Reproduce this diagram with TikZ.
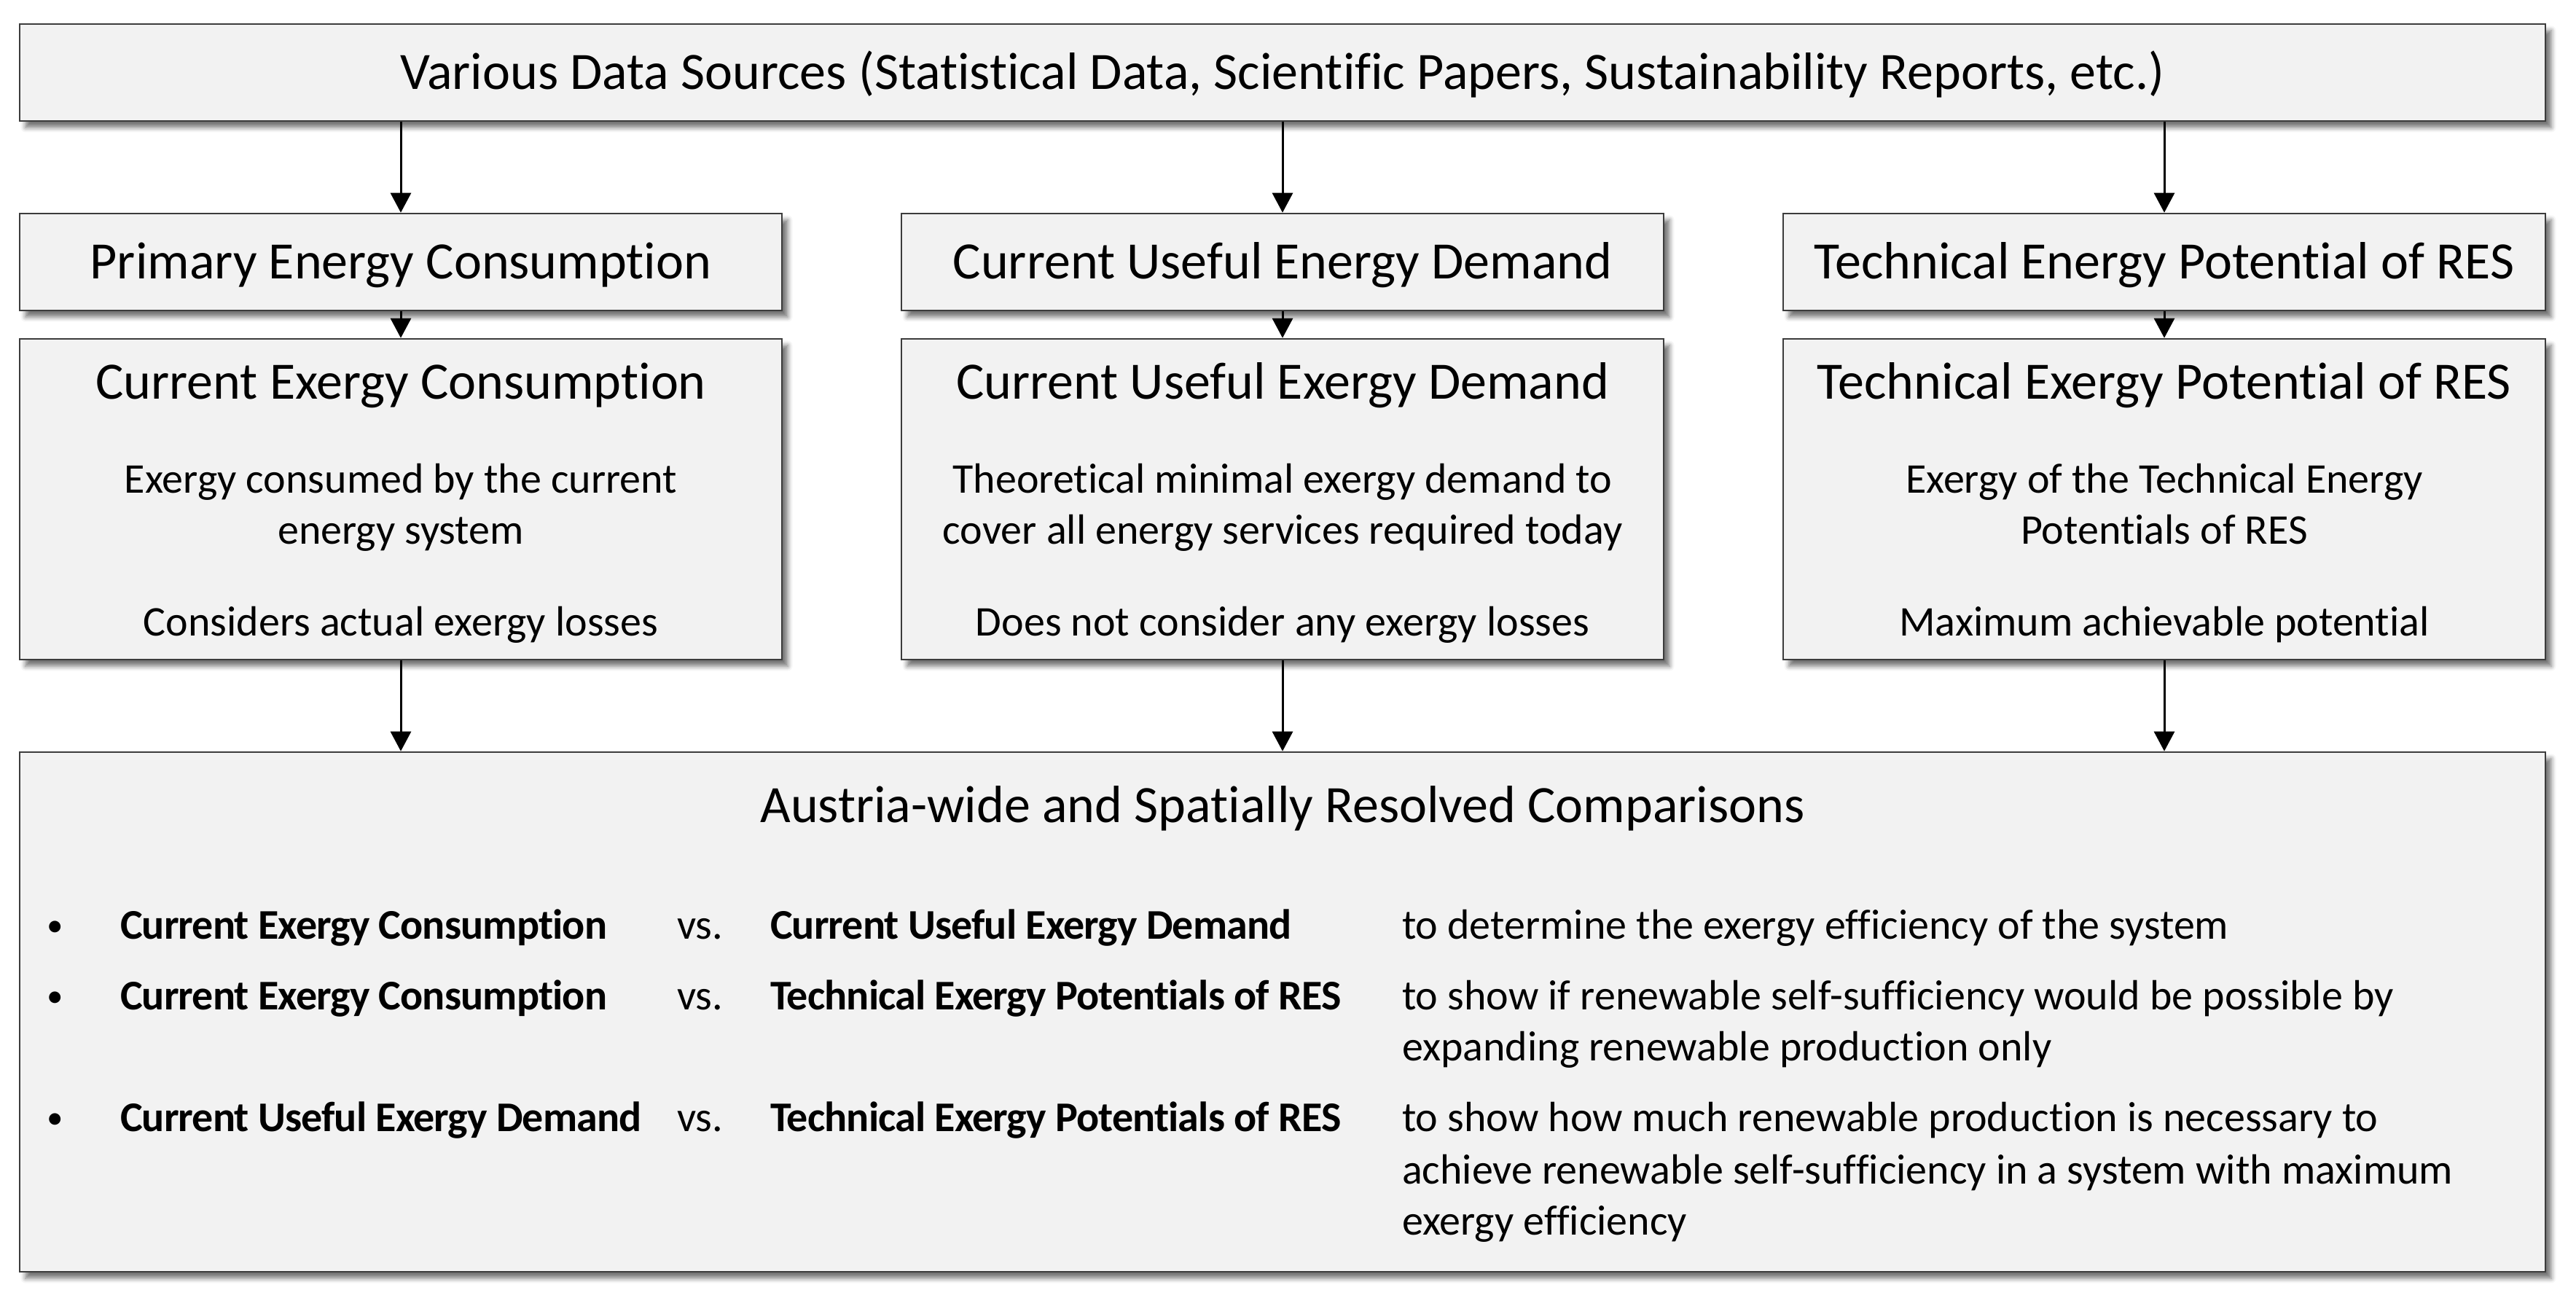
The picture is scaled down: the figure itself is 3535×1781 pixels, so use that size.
\documentclass[tikz,border=0pt]{standalone}
\usepackage{fontspec}
\setmainfont{Carlito}[Ligatures=NoCommon,Contextuals=NoAlternate]
\newfontfamily\condfont{Carlito}[LetterSpace=-1.5,Ligatures=NoCommon,Contextuals=NoAlternate]
\usetikzlibrary{arrows.meta,shadows.blur}
\definecolor{boxfill}{HTML}{F2F2F2}
\definecolor{boxline}{HTML}{3C3C3C}
\begin{document}
\begin{tikzpicture}[x=0.2pt,y=-0.2pt,
  box/.style={draw=boxline, line width=0.5pt, fill=boxfill, inner sep=0pt,
    blur shadow={shadow xshift=1.6pt, shadow yshift=-1.8pt, shadow blur radius=1.3pt, shadow opacity=55}},
  smallbox/.style={box, minimum width=209.2pt, minimum height=26.6pt},
  tallbox/.style={box, minimum width=209.2pt, minimum height=88pt},
  bigtxt/.style={font=\fontsize{14.4}{17.6}\selectfont, anchor=base, inner sep=0pt},
  smalltxt/.style={font=\fontsize{11.6}{14.1}\selectfont, anchor=base, inner sep=0pt},
  rowtxt/.style={font=\fontsize{11.6}{14.1}\selectfont, anchor=base west, inner sep=0pt},
  bullettxt/.style={font=\fontsize{9}{11}\selectfont, anchor=base west, inner sep=0pt},
  boldtxt/.style={font=\fontsize{11.6}{14.1}\condfont\bfseries, anchor=base west, inner sep=0pt},
  arr/.style={-{Triangle[length=5.4pt,width=5.6pt]}, line width=0.6pt, black}]
\useasboundingbox (0,0) rectangle (3535,1781);

% top box
\node[box, minimum width=693.2pt, minimum height=26.6pt] (src) at (1760,99.5) {};
\node[bigtxt] (srct) at (1760,123) {Various Data Sources (Statistical Data, Scientific Papers, Sustainability Reports, etc.)};

% row 1
\node[smallbox] (pec) at (550,359.5) {};
\node[bigtxt] (pect) at (550,383) {Primary Energy Consumption};
\node[smallbox] (cued) at (1760,359.5) {};
\node[bigtxt] (cuedt) at (1760,383) {Current Useful Energy Demand};
\node[smallbox] (tep) at (2970,359.5) {};
\node[bigtxt] (tept) at (2970,383) {Technical Energy Potential of RES};

% row 2
\node[tallbox] (cec) at (550,685) {};
\node[bigtxt] (cect) at (550,548) {Current Exergy Consumption};
\node[smalltxt] (ceca) at (550,677) {Exergy consumed by the current};
\node[smalltxt] (cecb) at (550,747) {energy system};
\node[smalltxt] (cecc) at (550,873) {Considers actual exergy losses};

\node[tallbox] (cuxd) at (1760,685) {};
\node[bigtxt] (cuxdt) at (1760,548) {Current Useful Exergy Demand};
\node[smalltxt] (cuxda) at (1760,677) {Theoretical minimal exergy demand to};
\node[smalltxt] (cuxdb) at (1760,747) {cover all energy services required today};
\node[smalltxt] (cuxdc) at (1760,873) {Does not consider any exergy losses};

\node[tallbox] (tep2) at (2970,685) {};
\node[bigtxt] (tep2t) at (2970,548) {Technical Exergy Potential of RES};
\node[smalltxt] (tep2a) at (2970,677) {Exergy of the Technical Energy};
\node[smalltxt] (tep2b) at (2970,747) {Potentials of RES};
\node[smalltxt] (tep2c) at (2970,873) {Maximum achievable potential};

% bottom box
\node[box, minimum width=693.2pt, minimum height=142.6pt] (cmp) at (1760,1388.5) {};
\node[bigtxt] (cmpt) at (1760,1129) {Austria-wide and Spatially Resolved Comparisons};

\node[bullettxt] (b1) at (64,1285) {•};
\node[boldtxt] (r1a) at (164,1289) {Current Exergy Consumption};
\node[rowtxt] (r1v) at (928,1289) {vs.};
\node[boldtxt] (r1b) at (1056,1289) {Current Useful Exergy Demand};
\node[rowtxt] (r1c) at (1923,1289) {to determine the exergy efficiency of the system};

\node[bullettxt] (b2) at (64,1382) {•};
\node[boldtxt] (r2a) at (164,1386) {Current Exergy Consumption};
\node[rowtxt] (r2v) at (928,1386) {vs.};
\node[boldtxt] (r2b) at (1056,1386) {Technical Exergy Potentials of RES};
\node[rowtxt] (r2c) at (1923,1386) {to show if renewable self-sufficiency would be possible by};
\node[rowtxt] (r2d) at (1923,1456) {expanding renewable production only};

\node[bullettxt] (b3) at (64,1549) {•};
\node[boldtxt] (r3a) at (164,1553) {Current Useful Exergy Demand};
\node[rowtxt] (r3v) at (928,1553) {vs.};
\node[boldtxt] (r3b) at (1056,1553) {Technical Exergy Potentials of RES};
\node[rowtxt] (r3c) at (1923,1553) {to show how much renewable production is necessary to};
\node[rowtxt] (r3d) at (1923,1625) {achieve renewable self-sufficiency in a system with maximum};
\node[rowtxt] (r3e) at (1923,1695) {exergy efficiency};

% arrows
\draw[arr] (src.south -| pec.north) -- (pec.north);
\draw[arr] (src.south -| cued.north) -- (cued.north);
\draw[arr] (src.south -| tep.north) -- (tep.north);
\draw[arr] (pec) -- (cec);
\draw[arr] (cued) -- (cuxd);
\draw[arr] (tep) -- (tep2);
\draw[arr] (cec.south) -- (cec.south |- cmp.north);
\draw[arr] (cuxd.south) -- (cuxd.south |- cmp.north);
\draw[arr] (tep2.south) -- (tep2.south |- cmp.north);
\end{tikzpicture}
\end{document}
